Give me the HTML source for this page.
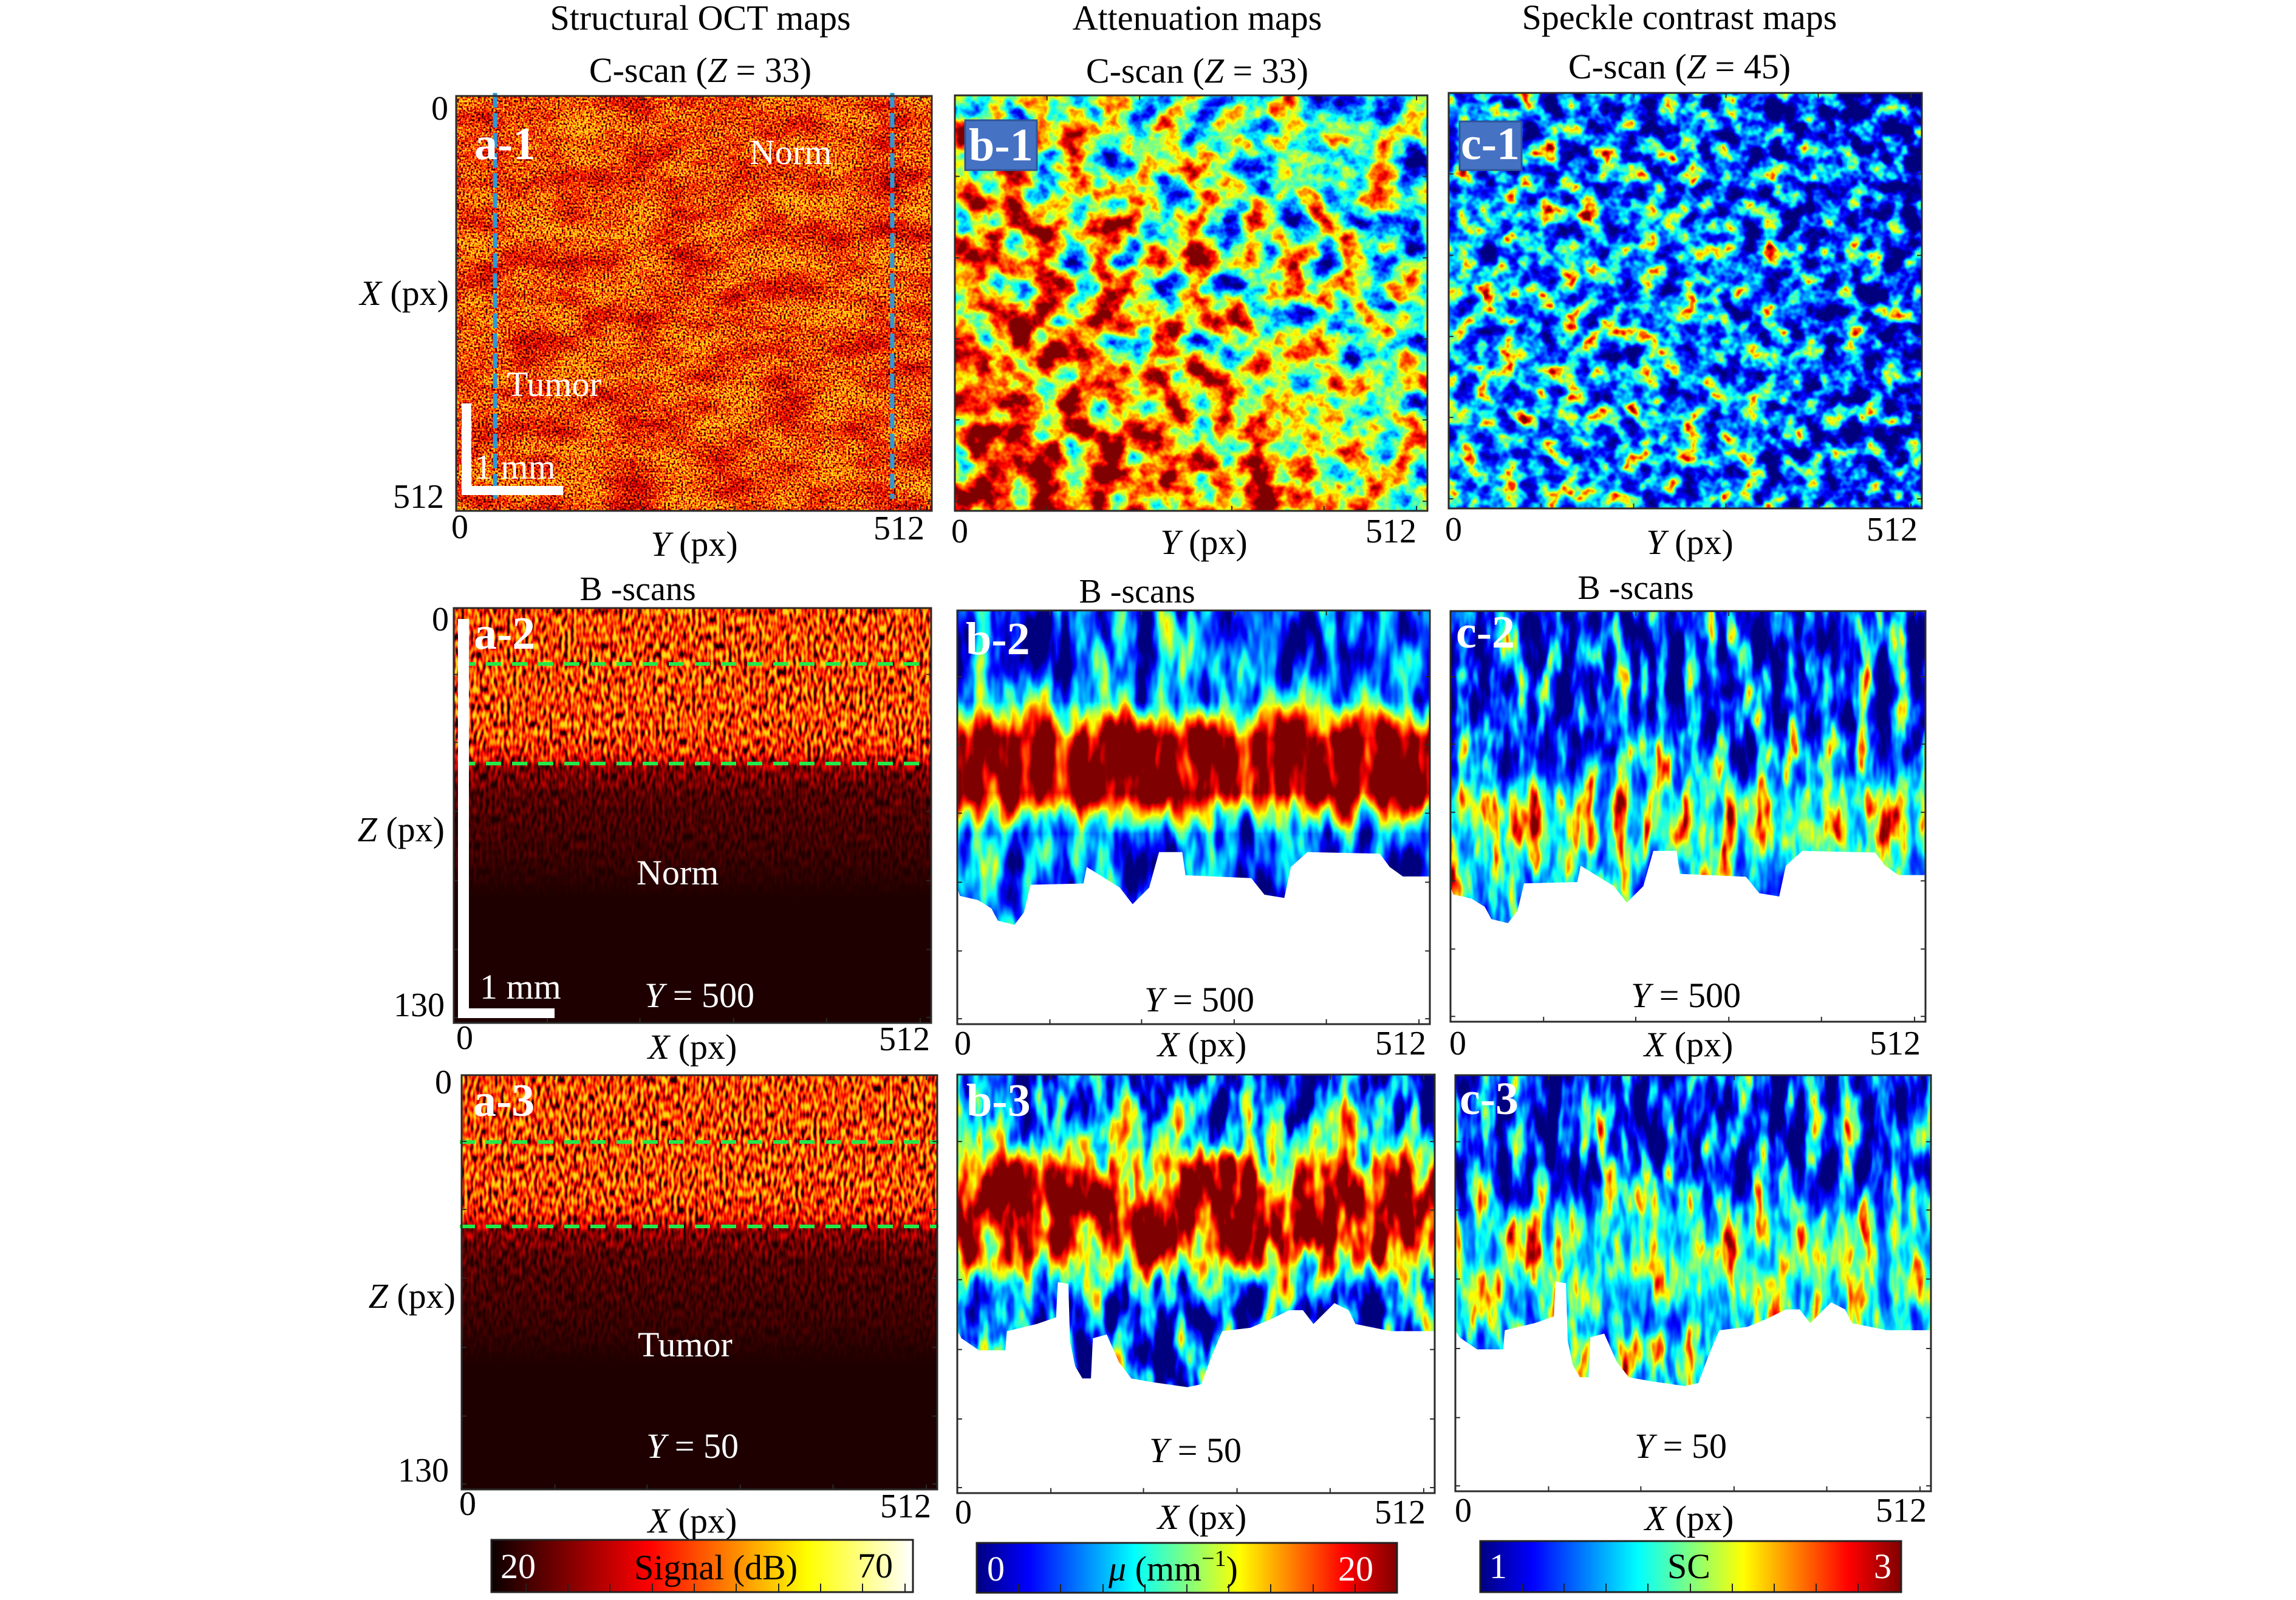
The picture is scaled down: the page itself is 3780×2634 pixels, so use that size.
<!DOCTYPE html>
<html><head><meta charset="utf-8"><style>
html,body{margin:0;padding:0;background:#fff;width:3780px;height:2634px;overflow:hidden}
svg{display:block}
text{font-family:"Liberation Serif","DejaVu Serif",serif}
</style></head><body>
<svg xmlns="http://www.w3.org/2000/svg" xmlns:xlink="http://www.w3.org/1999/xlink" width="3780" height="2634" viewBox="0 0 3780 2634">
<defs>
<linearGradient id="hotbar" x1="0" y1="0" x2="1" y2="0">
<stop offset="0" stop-color="#0b0000"/><stop offset="0.375" stop-color="#ff0000"/><stop offset="0.75" stop-color="#ffff00"/><stop offset="1" stop-color="#ffffff"/>
</linearGradient>
<linearGradient id="jetbar" x1="0" y1="0" x2="1" y2="0">
<stop offset="0" stop-color="#000080"/><stop offset="0.125" stop-color="#0000ff"/><stop offset="0.375" stop-color="#00ffff"/><stop offset="0.625" stop-color="#ffff00"/><stop offset="0.875" stop-color="#ff0000"/><stop offset="1" stop-color="#800000"/>
</linearGradient>

<linearGradient id="gb1" x1="1" y1="0" x2="0" y2="1">
<stop offset="0" stop-color="rgb(39%,39%,39%)"/><stop offset="0.4" stop-color="rgb(51.8%,51.8%,51.8%)"/><stop offset="0.65" stop-color="rgb(70%,70%,70%)"/><stop offset="1" stop-color="rgb(81.8%,81.8%,81.8%)"/>
</linearGradient>
<linearGradient id="gc1h" x1="0" y1="0" x2="1" y2="0">
<stop offset="0" stop-color="rgb(35.5%,35.5%,35.5%)"/><stop offset="0.5" stop-color="rgb(33.6%,33.6%,33.6%)"/><stop offset="0.8" stop-color="rgb(26.4%,26.4%,26.4%)"/><stop offset="1" stop-color="rgb(20.9%,20.9%,20.9%)"/>
</linearGradient>
<linearGradient id="gc1v" x1="0" y1="0" x2="0" y2="1">
<stop offset="0" stop-color="#000" stop-opacity="0.25"/><stop offset="0.3" stop-color="#000" stop-opacity="0"/><stop offset="1" stop-color="#000" stop-opacity="0"/>
</linearGradient>
<linearGradient id="ga2" x1="0" y1="0" x2="0" y2="1">
<stop offset="0" stop-color="rgb(50%,50%,50%)"/><stop offset="0.3" stop-color="rgb(50%,50%,50%)"/><stop offset="0.35" stop-color="rgb(40%,40%,40%)"/><stop offset="0.385" stop-color="rgb(15%,15%,15%)"/><stop offset="0.45" stop-color="rgb(8%,8%,8%)"/><stop offset="0.6" stop-color="rgb(4%,4%,4%)"/><stop offset="0.7" stop-color="#000"/><stop offset="1" stop-color="#000"/>
</linearGradient>
<linearGradient id="ga3" x1="0" y1="0" x2="0" y2="1">
<stop offset="0" stop-color="rgb(50%,50%,50%)"/><stop offset="0.29" stop-color="rgb(50%,50%,50%)"/><stop offset="0.34" stop-color="rgb(40%,40%,40%)"/><stop offset="0.375" stop-color="rgb(15%,15%,15%)"/><stop offset="0.44" stop-color="rgb(8%,8%,8%)"/><stop offset="0.6" stop-color="rgb(4%,4%,4%)"/><stop offset="0.7" stop-color="#000"/><stop offset="1" stop-color="#000"/>
</linearGradient>
<linearGradient id="gb2" x1="0" y1="0" x2="0" y2="1">
<stop offset="0" stop-color="rgb(22.7%,22.7%,22.7%)"/><stop offset="0.15" stop-color="rgb(24.5%,24.5%,24.5%)"/><stop offset="0.22" stop-color="rgb(36.4%,36.4%,36.4%)"/><stop offset="0.27" stop-color="rgb(72.7%,72.7%,72.7%)"/><stop offset="0.31" stop-color="#fff"/><stop offset="0.44" stop-color="#fff"/><stop offset="0.49" stop-color="rgb(59%,59%,59%)"/><stop offset="0.54" stop-color="rgb(27.3%,27.3%,27.3%)"/><stop offset="0.7" stop-color="rgb(22.7%,22.7%,22.7%)"/><stop offset="1" stop-color="rgb(22.7%,22.7%,22.7%)"/>
</linearGradient>
<linearGradient id="gc2" x1="0" y1="0" x2="0" y2="1">
<stop offset="0" stop-color="rgb(22.7%,22.7%,22.7%)"/><stop offset="0.3" stop-color="rgb(24.5%,24.5%,24.5%)"/><stop offset="0.4" stop-color="rgb(33.6%,33.6%,33.6%)"/><stop offset="0.46" stop-color="rgb(50%,50%,50%)"/><stop offset="0.55" stop-color="rgb(51.8%,51.8%,51.8%)"/><stop offset="0.62" stop-color="rgb(42.7%,42.7%,42.7%)"/><stop offset="0.75" stop-color="rgb(36.4%,36.4%,36.4%)"/><stop offset="1" stop-color="rgb(33.6%,33.6%,33.6%)"/>
</linearGradient>
<linearGradient id="gb3" x1="0" y1="0" x2="0" y2="1">
<stop offset="0" stop-color="rgb(22.7%,22.7%,22.7%)"/><stop offset="0.1" stop-color="rgb(27.3%,27.3%,27.3%)"/><stop offset="0.17" stop-color="rgb(45.5%,45.5%,45.5%)"/><stop offset="0.23" stop-color="rgb(81.8%,81.8%,81.8%)"/><stop offset="0.28" stop-color="rgb(95.5%,95.5%,95.5%)"/><stop offset="0.38" stop-color="rgb(90.9%,90.9%,90.9%)"/><stop offset="0.45" stop-color="rgb(63.6%,63.6%,63.6%)"/><stop offset="0.5" stop-color="rgb(36.4%,36.4%,36.4%)"/><stop offset="0.56" stop-color="rgb(22.7%,22.7%,22.7%)"/><stop offset="1" stop-color="rgb(22.7%,22.7%,22.7%)"/>
</linearGradient>
<linearGradient id="gc3" x1="0" y1="0" x2="0" y2="1">
<stop offset="0" stop-color="rgb(20.9%,20.9%,20.9%)"/><stop offset="0.22" stop-color="rgb(22.7%,22.7%,22.7%)"/><stop offset="0.3" stop-color="rgb(35.5%,35.5%,35.5%)"/><stop offset="0.38" stop-color="rgb(50%,50%,50%)"/><stop offset="0.5" stop-color="rgb(50%,50%,50%)"/><stop offset="0.58" stop-color="rgb(42.7%,42.7%,42.7%)"/><stop offset="0.7" stop-color="rgb(36.4%,36.4%,36.4%)"/><stop offset="1" stop-color="rgb(31.8%,31.8%,31.8%)"/>
</linearGradient>

<!-- filters -->
<filter id="fa1" x="0" y="0" width="1" height="1" color-interpolation-filters="sRGB">
<feTurbulence type="fractalNoise" baseFrequency="0.012 0.022" numOctaves="3" seed="11" result="c0"/>
<feColorMatrix in="c0" type="matrix" values="0.8 0 0 0 0.1  0.8 0 0 0 0.1  0.8 0 0 0 0.1  0 0 0 0 1" result="c"/>
<feTurbulence type="fractalNoise" baseFrequency="0.32" numOctaves="1" seed="3" result="f0"/>
<feColorMatrix in="f0" type="matrix" values="1 0 0 0 0  1 0 0 0 0  1 0 0 0 0  0 0 0 0 1" result="f"/>
<feComposite in="f" in2="c" operator="arithmetic" k1="5" k2="0" k3="-1.5" k4="0"/>
<feComponentTransfer><feFuncR type="table" tableValues="0.12 0.45 0.8 1 1 1 1 1 1"/><feFuncG type="table" tableValues="0 0 0 0.05 0.25 0.45 0.6 0.75 0.85"/><feFuncB type="table" tableValues="0 0 0 0 0 0 0 0 0.1"/><feFuncA type="linear" slope="0" intercept="1"/></feComponentTransfer>
</filter>
<filter id="fa2" x="0" y="0" width="1" height="1" color-interpolation-filters="sRGB">
<feTurbulence type="fractalNoise" baseFrequency="0.2 0.07" numOctaves="1" seed="4"/>
<feColorMatrix type="matrix" values="1 0 0 0 0  1 0 0 0 0  1 0 0 0 0  0 0 0 0 1"/>
<feComposite in2="SourceGraphic" operator="arithmetic" k1="5" k2="0" k3="-1.5" k4="0"/>
<feComponentTransfer><feFuncR type="table" tableValues="0.12 0.45 0.8 1 1 1 1 1 1"/><feFuncG type="table" tableValues="0 0 0 0.05 0.25 0.45 0.6 0.75 0.85"/><feFuncB type="table" tableValues="0 0 0 0 0 0 0 0 0.1"/><feFuncA type="linear" slope="0" intercept="1"/></feComponentTransfer>
</filter>
<filter id="fa3" x="0" y="0" width="1" height="1" color-interpolation-filters="sRGB">
<feTurbulence type="fractalNoise" baseFrequency="0.2 0.07" numOctaves="1" seed="9"/>
<feColorMatrix type="matrix" values="1 0 0 0 0  1 0 0 0 0  1 0 0 0 0  0 0 0 0 1"/>
<feComposite in2="SourceGraphic" operator="arithmetic" k1="5" k2="0" k3="-1.5" k4="0"/>
<feComponentTransfer><feFuncR type="table" tableValues="0.12 0.45 0.8 1 1 1 1 1 1"/><feFuncG type="table" tableValues="0 0 0 0.05 0.25 0.45 0.6 0.75 0.85"/><feFuncB type="table" tableValues="0 0 0 0 0 0 0 0 0.1"/><feFuncA type="linear" slope="0" intercept="1"/></feComponentTransfer>
</filter>
<filter id="fb1" x="0" y="0" width="1" height="1" color-interpolation-filters="sRGB">
<feTurbulence type="fractalNoise" baseFrequency="0.02" numOctaves="4" seed="7"/>
<feColorMatrix type="matrix" values="1 0 0 0 0  1 0 0 0 0  1 0 0 0 0  0 0 0 0 1"/>
<feComposite in2="SourceGraphic" operator="arithmetic" k1="0" k2="1.6" k3="1.1" k4="-0.85"/>
<feComponentTransfer><feFuncR type="table" tableValues="0 0 0 0 0.5 1 1 1 0.5"/><feFuncG type="table" tableValues="0 0 0.5 1 1 1 0.5 0 0"/><feFuncB type="table" tableValues="0.5 1 1 1 0.5 0 0 0 0"/><feFuncA type="linear" slope="0" intercept="1"/></feComponentTransfer>
</filter>
<filter id="fc1" x="0" y="0" width="1" height="1" color-interpolation-filters="sRGB">
<feTurbulence type="fractalNoise" baseFrequency="0.03" numOctaves="3" seed="21"/>
<feColorMatrix type="matrix" values="1 0 0 0 0  1 0 0 0 0  1 0 0 0 0  0 0 0 0 1"/>
<feComponentTransfer><feFuncR type="gamma" amplitude="1" exponent="2" offset="0"/><feFuncG type="gamma" amplitude="1" exponent="2" offset="0"/><feFuncB type="gamma" amplitude="1" exponent="2" offset="0"/></feComponentTransfer>
<feComposite in2="SourceGraphic" operator="arithmetic" k1="0" k2="1.5" k3="1.1" k4="-0.455"/>
<feComponentTransfer><feFuncR type="table" tableValues="0 0 0 0 0.5 1 1 1 0.5"/><feFuncG type="table" tableValues="0 0 0.5 1 1 1 0.5 0 0"/><feFuncB type="table" tableValues="0.5 1 1 1 0.5 0 0 0 0"/><feFuncA type="linear" slope="0" intercept="1"/></feComponentTransfer>
</filter>
<filter id="fb2" x="0" y="0" width="1" height="1" color-interpolation-filters="sRGB">
<feTurbulence type="fractalNoise" baseFrequency="0.03 0.008" numOctaves="3" seed="5"/>
<feColorMatrix type="matrix" values="1 0 0 0 0  1 0 0 0 0  1 0 0 0 0  0 0 0 0 1"/>
<feComposite in2="SourceGraphic" operator="arithmetic" k1="0" k2="1.2" k3="1.1" k4="-0.65"/>
<feComponentTransfer><feFuncR type="table" tableValues="0 0 0 0 0.5 1 1 1 0.5"/><feFuncG type="table" tableValues="0 0 0.5 1 1 1 0.5 0 0"/><feFuncB type="table" tableValues="0.5 1 1 1 0.5 0 0 0 0"/><feFuncA type="linear" slope="0" intercept="1"/></feComponentTransfer>
</filter>
<filter id="fc2" x="0" y="0" width="1" height="1" color-interpolation-filters="sRGB">
<feTurbulence type="fractalNoise" baseFrequency="0.035 0.01" numOctaves="3" seed="13"/>
<feColorMatrix type="matrix" values="1 0 0 0 0  1 0 0 0 0  1 0 0 0 0  0 0 0 0 1"/>
<feComponentTransfer><feFuncR type="gamma" amplitude="1" exponent="2" offset="0"/><feFuncG type="gamma" amplitude="1" exponent="2" offset="0"/><feFuncB type="gamma" amplitude="1" exponent="2" offset="0"/></feComponentTransfer>
<feComposite in2="SourceGraphic" operator="arithmetic" k1="0" k2="1.4" k3="1.1" k4="-0.428"/>
<feComponentTransfer><feFuncR type="table" tableValues="0 0 0 0 0.5 1 1 1 0.5"/><feFuncG type="table" tableValues="0 0 0.5 1 1 1 0.5 0 0"/><feFuncB type="table" tableValues="0.5 1 1 1 0.5 0 0 0 0"/><feFuncA type="linear" slope="0" intercept="1"/></feComponentTransfer>
</filter>
<filter id="fb3" x="0" y="0" width="1" height="1" color-interpolation-filters="sRGB">
<feTurbulence type="fractalNoise" baseFrequency="0.03 0.01" numOctaves="3" seed="17"/>
<feColorMatrix type="matrix" values="1 0 0 0 0  1 0 0 0 0  1 0 0 0 0  0 0 0 0 1"/>
<feComposite in2="SourceGraphic" operator="arithmetic" k1="0" k2="1.6" k3="1.1" k4="-0.85"/>
<feComponentTransfer><feFuncR type="table" tableValues="0 0 0 0 0.5 1 1 1 0.5"/><feFuncG type="table" tableValues="0 0 0.5 1 1 1 0.5 0 0"/><feFuncB type="table" tableValues="0.5 1 1 1 0.5 0 0 0 0"/><feFuncA type="linear" slope="0" intercept="1"/></feComponentTransfer>
</filter>
<filter id="fc3" x="0" y="0" width="1" height="1" color-interpolation-filters="sRGB">
<feTurbulence type="fractalNoise" baseFrequency="0.035 0.01" numOctaves="3" seed="29"/>
<feColorMatrix type="matrix" values="1 0 0 0 0  1 0 0 0 0  1 0 0 0 0  0 0 0 0 1"/>
<feComponentTransfer><feFuncR type="gamma" amplitude="1" exponent="2" offset="0"/><feFuncG type="gamma" amplitude="1" exponent="2" offset="0"/><feFuncB type="gamma" amplitude="1" exponent="2" offset="0"/></feComponentTransfer>
<feComposite in2="SourceGraphic" operator="arithmetic" k1="0" k2="1.4" k3="1.1" k4="-0.428"/>
<feComponentTransfer><feFuncR type="table" tableValues="0 0 0 0 0.5 1 1 1 0.5"/><feFuncG type="table" tableValues="0 0 0.5 1 1 1 0.5 0 0"/><feFuncB type="table" tableValues="0.5 1 1 1 0.5 0 0 0 0"/><feFuncA type="linear" slope="0" intercept="1"/></feComponentTransfer>
</filter>

<path id="m2" d="M0 0.671 L0.0056 0.69 L0.044 0.70 L0.072 0.72 L0.086 0.75 L0.121 0.76 L0.141 0.73 L0.155 0.663 L0.267 0.66 L0.274 0.62 L0.344 0.67 L0.371 0.71 L0.406 0.67 L0.427 0.584 L0.476 0.584 L0.483 0.64 L0.622 0.647 L0.65 0.687 L0.692 0.695 L0.706 0.62 L0.741 0.584 L0.894 0.588 L0.915 0.62 L0.943 0.643 L1 0.643 L1 1 L0 1 Z" fill="#fff"/>
<path id="m3" d="M0 0.613 L0.0088 0.63 L0.0455 0.659 L0.1005 0.659 L0.104 0.613 L0.1665 0.596 L0.207 0.58 L0.2106 0.496 L0.2326 0.5 L0.2362 0.638 L0.247 0.697 L0.262 0.726 L0.28 0.726 L0.284 0.63 L0.313 0.621 L0.339 0.688 L0.3646 0.726 L0.4087 0.735 L0.482 0.747 L0.511 0.74 L0.533 0.672 L0.555 0.613 L0.614 0.605 L0.658 0.584 L0.695 0.563 L0.724 0.563 L0.746 0.596 L0.79 0.546 L0.8195 0.563 L0.834 0.596 L0.9076 0.613 L1 0.613 L1 1 L0 1 Z" fill="#fff"/>

<g id="frC" fill="none" stroke="#2a2a2a">
<rect x="0" y="0" width="1" height="1" stroke-width="3" vector-effect="non-scaling-stroke"/>
<path stroke-width="2" vector-effect="non-scaling-stroke" d="M0.195 1V0.988M0.391 1V0.988M0.586 1V0.988M0.781 1V0.988M0.977 1V0.988M0.195 0V0.012M0.391 0V0.012M0.586 0V0.012M0.781 0V0.012M0.977 0V0.012M0 0.195H0.01M0 0.391H0.01M0 0.586H0.01M0 0.781H0.01M0 0.977H0.01M1 0.195H0.99M1 0.391H0.99M1 0.586H0.99M1 0.781H0.99M1 0.977H0.99"/>
</g>
<g id="frB" fill="none" stroke="#2a2a2a">
<rect x="0" y="0" width="1" height="1" stroke-width="3" vector-effect="non-scaling-stroke"/>
<path stroke-width="2" vector-effect="non-scaling-stroke" d="M0.196 1V0.988M0.39 1V0.988M0.586 1V0.988M0.781 1V0.988M0.977 1V0.988M0.196 0V0.012M0.39 0V0.012M0.586 0V0.012M0.781 0V0.012M0.977 0V0.012M0 0.16H0.01M0 0.324H0.01M0 0.49H0.01M0 0.657H0.01M0 0.823H0.01M0 0.987H0.01M1 0.16H0.99M1 0.324H0.99M1 0.49H0.99M1 0.657H0.99M1 0.823H0.99M1 0.987H0.99"/>
</g>
</defs>

<rect x="0" y="0" width="3780" height="2634" fill="#fff"/>

<!-- images -->
<rect x="751" y="158" width="783" height="683" fill="#888" filter="url(#fa1)"/>
<rect x="1572" y="157" width="778" height="684" fill="url(#gb1)" filter="url(#fb1)"/>
<g filter="url(#fc1)"><rect x="2385" y="153" width="779" height="684" fill="url(#gc1h)"/><rect x="2385" y="153" width="779" height="684" fill="url(#gc1v)"/></g>

<rect x="747" y="1001" width="786" height="683" fill="url(#ga2)" filter="url(#fa2)"/>
<rect x="1576" y="1005" width="778" height="681" fill="url(#gb2)" filter="url(#fb2)"/>
<rect x="2388" y="1006" width="782" height="676" fill="url(#gc2)" filter="url(#fc2)"/>

<rect x="760" y="1770" width="783" height="682" fill="url(#ga3)" filter="url(#fa3)"/>
<rect x="1576" y="1769" width="786" height="689" fill="url(#gb3)" filter="url(#fb3)"/>
<rect x="2396" y="1770" width="783" height="685" fill="url(#gc3)" filter="url(#fc3)"/>

<use xlink:href="#m2" href="#m2" transform="translate(1576 1005) scale(778 681)"/>
<use xlink:href="#m2" href="#m2" transform="translate(2388 1006) scale(782 676)"/>
<use xlink:href="#m3" href="#m3" transform="translate(1576 1769) scale(786 689)"/>
<use xlink:href="#m3" href="#m3" transform="translate(2396 1770) scale(783 685)"/>

<g stroke="#2a9ad8" stroke-width="7" stroke-dasharray="24 9" fill="none">
<line x1="815" y1="153" x2="815" y2="821"/>
<line x1="1469" y1="153" x2="1469" y2="821"/>
</g>
<g stroke="#22e84a" stroke-width="6" stroke-dasharray="25 18" fill="none">
<line x1="757" y1="1093" x2="1531" y2="1093"/>
<line x1="757" y1="1257" x2="1531" y2="1257"/>
<line x1="757" y1="1880" x2="1545" y2="1880"/>
<line x1="757" y1="2019" x2="1545" y2="2019"/>
</g>

<use xlink:href="#frC" href="#frC" transform="translate(751 158) scale(783 683)"/>
<use xlink:href="#frC" href="#frC" transform="translate(1572 157) scale(778 684)"/>
<use xlink:href="#frC" href="#frC" transform="translate(2385 153) scale(779 684)"/>
<use xlink:href="#frB" href="#frB" transform="translate(747 1001) scale(786 683)"/>
<use xlink:href="#frB" href="#frB" transform="translate(1576 1005) scale(778 681)"/>
<use xlink:href="#frB" href="#frB" transform="translate(2388 1006) scale(782 676)"/>
<use xlink:href="#frB" href="#frB" transform="translate(760 1770) scale(783 682)"/>
<use xlink:href="#frB" href="#frB" transform="translate(1576 1769) scale(786 689)"/>
<use xlink:href="#frB" href="#frB" transform="translate(2396 1770) scale(783 685)"/>

<g fill="#fff">
<rect x="760" y="664" width="16" height="151"/>
<rect x="760" y="800" width="167" height="15"/>
<rect x="754" y="1019" width="18" height="657"/>
<rect x="754" y="1660" width="159" height="16"/>
</g>

<rect x="1589" y="198" width="118" height="82" fill="#4672c4" stroke="#2f5597" stroke-width="3"/>
<rect x="2403" y="200" width="102" height="80" fill="#4672c4" stroke="#2f5597" stroke-width="3"/>

<g font-size="58" fill="#000" text-anchor="middle">
<text x="1153" y="49">Structural OCT maps</text>
<text x="1971" y="49">Attenuation maps</text>
<text x="2765" y="48">Speckle contrast maps</text>
<text x="1153" y="135">C-scan (<tspan font-style="italic">Z</tspan> = 33)</text>
<text x="1971" y="136">C-scan (<tspan font-style="italic">Z</tspan> = 33)</text>
<text x="2765" y="129">C-scan (<tspan font-style="italic">Z</tspan> = 45)</text>
<text x="1050" y="988" font-size="56">B -scans</text>
<text x="1872" y="992" font-size="56">B -scans</text>
<text x="2693" y="986" font-size="56">B -scans</text>
</g>

<g font-size="56" fill="#000">
<text x="738" y="197" text-anchor="end">0</text>
<text x="731" y="836" text-anchor="end">512</text>
<text x="743" y="886">0</text>
<text x="1522" y="888" text-anchor="end">512</text>
<text x="1566" y="893">0</text>
<text x="2332" y="893" text-anchor="end">512</text>
<text x="2379" y="890">0</text>
<text x="3157" y="890" text-anchor="end">512</text>
<text x="739" y="1038" text-anchor="end">0</text>
<text x="732" y="1673" text-anchor="end">130</text>
<text x="751" y="1727">0</text>
<text x="1531" y="1729" text-anchor="end">512</text>
<text x="1571" y="1736">0</text>
<text x="2348" y="1736" text-anchor="end">512</text>
<text x="2386" y="1736">0</text>
<text x="3162" y="1736" text-anchor="end">512</text>
<text x="744" y="1800" text-anchor="end">0</text>
<text x="739" y="2439" text-anchor="end">130</text>
<text x="756" y="2494">0</text>
<text x="1533" y="2498" text-anchor="end">512</text>
<text x="1572" y="2508">0</text>
<text x="2347" y="2508" text-anchor="end">512</text>
<text x="2395" y="2505">0</text>
<text x="3172" y="2505" text-anchor="end">512</text>
</g>

<g font-size="58" fill="#000">
<text x="739" y="502" text-anchor="end"><tspan font-style="italic">X</tspan> (px)</text>
<text x="1143" y="915" text-anchor="middle"><tspan font-style="italic">Y</tspan> (px)</text>
<text x="1982" y="912" text-anchor="middle"><tspan font-style="italic">Y</tspan> (px)</text>
<text x="2782" y="912" text-anchor="middle"><tspan font-style="italic">Y</tspan> (px)</text>
<text x="732" y="1385" text-anchor="end"><tspan font-style="italic">Z</tspan> (px)</text>
<text x="750" y="2153" text-anchor="end"><tspan font-style="italic">Z</tspan> (px)</text>
<text x="1140" y="1743" text-anchor="middle"><tspan font-style="italic">X</tspan> (px)</text>
<text x="1979" y="1739" text-anchor="middle"><tspan font-style="italic">X</tspan> (px)</text>
<text x="2780" y="1739" text-anchor="middle"><tspan font-style="italic">X</tspan> (px)</text>
<text x="1140" y="2523" text-anchor="middle"><tspan font-style="italic">X</tspan> (px)</text>
<text x="1979" y="2517" text-anchor="middle"><tspan font-style="italic">X</tspan> (px)</text>
<text x="2781" y="2519" text-anchor="middle"><tspan font-style="italic">X</tspan> (px)</text>
</g>

<g font-size="58" fill="#fff">
<text x="1234" y="270">Norm</text>
<text x="834" y="652">Tumor</text>
<text x="781" y="788">1 mm</text>
<text x="1048" y="1456">Norm</text>
<text x="790" y="1644">1 mm</text>
<text x="1061" y="1658"><tspan font-style="italic">Y</tspan> = 500</text>
<text x="1050" y="2233">Tumor</text>
<text x="1064" y="2400"><tspan font-style="italic">Y</tspan> = 50</text>
</g>
<g font-size="58" fill="#000">
<text x="1884" y="1665"><tspan font-style="italic">Y</tspan> = 500</text>
<text x="2685" y="1658"><tspan font-style="italic">Y</tspan> = 500</text>
<text x="1892" y="2407"><tspan font-style="italic">Y</tspan> = 50</text>
<text x="2691" y="2400"><tspan font-style="italic">Y</tspan> = 50</text>
</g>

<g font-size="76" font-weight="bold" fill="#fff">
<text x="781" y="262">a-1</text>
<text x="1595" y="264">b-1</text>
<text x="2405" y="262">c-1</text>
<text x="780" y="1068">a-2</text>
<text x="1590" y="1077">b-2</text>
<text x="2397" y="1066">c-2</text>
<text x="779" y="1837">a-3</text>
<text x="1591" y="1837">b-3</text>
<text x="2403" y="1834">c-3</text>
</g>

<rect x="809" y="2535" width="694" height="86" fill="url(#hotbar)" stroke="#222" stroke-width="3"/>
<rect x="1608" y="2540" width="692" height="82" fill="url(#jetbar)" stroke="#222" stroke-width="3"/>
<rect x="2437" y="2537" width="693" height="84" fill="url(#jetbar)" stroke="#222" stroke-width="3"/>
<path stroke="#222" stroke-width="2" fill="none" d="M866 2621V2607M935 2621V2607M1004 2621V2607M1074 2621V2607M1143 2621V2607M1212 2621V2607M1282 2621V2607M1351 2621V2607M1420 2621V2607M1490 2621V2607
M1677 2622V2608M1746 2622V2608M1816 2622V2608M1885 2622V2608M1954 2622V2608M2023 2622V2608M2092 2622V2608M2162 2622V2608M2231 2622V2608
M2506 2621V2607M2575 2621V2607M2644 2621V2607M2713 2621V2607M2783 2621V2607M2852 2621V2607M2921 2621V2607M2990 2621V2607M3059 2621V2607"/>
<g font-size="58">
<text x="824" y="2598" fill="#fff">20</text>
<text x="1044" y="2600" fill="#000">Signal (dB)</text>
<text x="1412" y="2597" fill="#000">70</text>
<text x="1625" y="2602" fill="#fff">0</text>
<text x="1825" y="2602" fill="#000"><tspan font-style="italic">μ</tspan> (mm<tspan font-size="38" dy="-24">−1</tspan><tspan dy="24">)</tspan></text>
<text x="2203" y="2602" fill="#fff">20</text>
<text x="2452" y="2598" fill="#fff">1</text>
<text x="2745" y="2598" fill="#000">SC</text>
<text x="3085" y="2598" fill="#fff">3</text>
</g>
</svg>
</body></html>
